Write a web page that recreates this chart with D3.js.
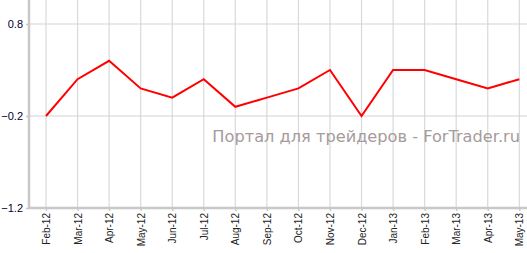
<!DOCTYPE html>
<html><head><meta charset="utf-8">
<script src="https://cdn.jsdelivr.net/npm/d3@7"></script>
<style>html,body{margin:0;padding:0;background:#fff;overflow:hidden}</style>
</head><body><svg id="c" width="527" height="253"></svg>
<script>
const categories = ["Feb-12","Mar-12","Apr-12","May-12","Jun-12","Jul-12","Aug-12","Sep-12","Oct-12","Nov-12","Dec-12","Jan-13","Feb-13","Mar-13","Apr-13","May-13"];
const values = [-0.2,0.2,0.4,0.1,0.0,0.2,-0.1,0.0,0.1,0.3,-0.2,0.3,0.3,0.2,0.1,0.2];
const yTicks = [-1.2,-0.2,0.8];
const watermark = "Портал для трейдеров - ForTrader.ru";

const svg = d3.select("#c");
const left = 29, bottom = 208;
const x = d3.scalePoint().domain(categories).range([46, 519.3]);
const y = d3.scaleLinear().domain([-1.2, 0.8]).range([208, 24]);

// vertical grid
svg.append("g").selectAll("line").data(categories).join("line")
  .attr("x1", d => x(d)).attr("x2", d => x(d))
  .attr("y1", 0).attr("y2", bottom)
  .attr("stroke", "#d9d9d9").attr("stroke-width", 1.2);
// horizontal grid
svg.append("g").selectAll("line").data(yTicks).join("line")
  .attr("x1", left).attr("x2", 527)
  .attr("y1", d => y(d)).attr("y2", d => y(d))
  .attr("stroke", "#d4d4d4").attr("stroke-width", 1.2);

const font = "Liberation Sans, Arial, sans-serif";
// axes
const yAxis = svg.append("g").attr("transform", `translate(${left},0)`)
  .call(d3.axisLeft(y).tickValues(yTicks).tickSize(3).tickPadding(3).tickFormat(d3.format(".1f")));
yAxis.select(".domain").attr("d", `M0,0V${bottom}`).attr("stroke", "#c8c8c8").attr("stroke-width", 2.5);
yAxis.selectAll(".tick line").attr("stroke", "#c8c8c8").attr("stroke-width", 1.5);
yAxis.selectAll("text").attr("font-family", font).attr("font-size", 11).attr("fill", "#000033");

const xAxis = svg.append("g").attr("transform", `translate(0,${bottom})`)
  .call(d3.axisBottom(x).tickSize(3).tickPadding(4));
xAxis.select(".domain").attr("d", `M${left},0H527`).attr("stroke", "#c8c8c8").attr("stroke-width", 2.5);
xAxis.selectAll(".tick line").attr("stroke", "#c8c8c8").attr("stroke-width", 1.5);
xAxis.selectAll("text")
  .attr("font-family", font).attr("font-size", 10).attr("fill", "#222")
  .attr("transform", "rotate(-90)").attr("text-anchor", "end")
  .attr("x", -5).attr("y", 0).attr("dy", "0.35em");

// watermark
svg.append("text").text(watermark)
  .attr("x", 520).attr("y", 142).attr("text-anchor", "end")
  .attr("font-family", "DejaVu Sans, Verdana, sans-serif").attr("font-size", 16.2)
  .attr("fill", "#a69a9a");

// line
svg.append("path").datum(values)
  .attr("fill", "none").attr("stroke", "#ff0000").attr("stroke-width", 2)
  .attr("stroke-linejoin", "miter")
  .attr("d", d3.line().x((d, i) => x(categories[i])).y(d => y(d)));
</script></body></html>
